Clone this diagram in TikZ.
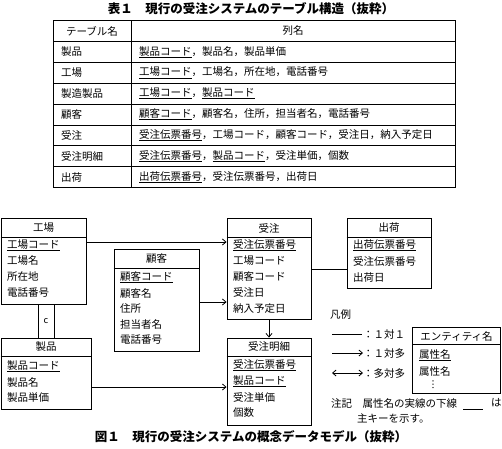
\documentclass[tikz,border=0pt]{standalone}
\usepackage{fontspec}
\setmainfont{Noto Sans CJK JP}
\usepackage{tikz}
\usetikzlibrary{arrows.meta}

\newcommand{\pk}[1]{\setbox0=\hbox{#1}\rlap{\rule[-2.6pt]{\wd0}{0.9pt}}\box0}

\tikzset{
    txt/.style={inner sep=0pt, anchor=west, font=\fontsize{10.5}{12}\selectfont},
    head/.style={inner sep=0pt, font=\fontsize{10.5}{12}\selectfont},
    entity/.style={draw, line width=0.9pt, inner sep=0pt},
    rel/.style={line width=0.8pt},
    tomany/.style={rel, -{Straight Barb[length=3.5pt, width=6pt]}},
    manymany/.style={rel, {Straight Barb[length=3.5pt, width=6pt]}-{Straight Barb[length=3.5pt, width=6pt]}},
}

\begin{document}
\begin{tikzpicture}[x=1pt, y=-1pt]
    \useasboundingbox (0,0) rectangle (502,448);

    % table 1
    \node[head, font=\fontsize{12.5}{14}\selectfont\bfseries] (tabtitle) at (251,9) {表１　現行の受注システムのテーブル構造（抜粋）};
    \draw[line width=1pt] (53,20.5) rectangle (455,187.5);
    \draw[line width=0.7pt] (131,20.5) -- (131,187.5);
    \foreach \i in {1,...,7}
    \draw[line width=0.7pt] (53,20.5+20.875*\i) -- (455,20.5+20.875*\i);

    \node[head] (thname) at (92,31) {テーブル名};
    \node[head] (thcols) at (293,31) {列名};
    \foreach \nm/\cols [count=\i] in {
        製品/{\pk{製品コード}，製品名，製品単価},
        工場/{\pk{工場コード}，工場名，所在地，電話番号},
        製造製品/{\pk{工場コード}，\pk{製品コード}},
        顧客/{\pk{顧客コード}，顧客名，住所，担当者名，電話番号},
        受注/{\pk{受注伝票番号}，工場コード，顧客コード，受注日，納入予定日},
        受注明細/{\pk{受注伝票番号}，\pk{製品コード}，受注単価，個数},
        出荷/{\pk{出荷伝票番号}，受注伝票番号，出荷日}}
    {
        \node[txt] (tname\i) at (61,31+20.875*\i) {\nm};
        \node[txt] (tcols\i) at (139,31+20.875*\i) {\cols};
    }

    % figure 1
    \node[entity, minimum width=85pt, minimum height=86pt] (kojo) at (43.5,261) {};
    \draw[line width=0.9pt] (kojo.west |- 0,237) -- (kojo.east |- 0,237);
    \node[head] (kojo-h) at (kojo.north |- 0,228) {工場};
    \foreach \a [count=\i] in {\pk{工場コード},工場名,所在地,電話番号}
    \node[txt] (kojo-\i) at (7,229+16*\i) {\a};

    \node[entity, minimum width=16pt, minimum height=34pt, font=\fontsize{9}{10}\selectfont] (blank-c) at (46,321) {c};

    \node[entity, minimum width=90pt, minimum height=71pt] (seihin) at (46,373.5) {};
    \draw[line width=0.9pt] (seihin.west |- 0,356) -- (seihin.east |- 0,356);
    \node[head] (seihin-h) at (seihin.north |- 0,347) {製品};
    \foreach \a [count=\i] in {\pk{製品コード},製品名,製品単価}
    \node[txt] (seihin-\i) at (7,350+16*\i) {\a};

    \node[entity, minimum width=85pt, minimum height=102pt] (kokyaku) at (156.5,300) {};
    \draw[line width=0.9pt] (kokyaku.west |- 0,268) -- (kokyaku.east |- 0,268);
    \node[head] (kokyaku-h) at (kokyaku.north |- 0,259) {顧客};
    \foreach \a [count=\i] in {\pk{顧客コード},顧客名,住所,担当者名,電話番号}
    \node[txt] (kokyaku-\i) at (120,262+15.5*\i) {\a};

    \node[entity, minimum width=84pt, minimum height=101pt] (juchu) at (269,268.5) {};
    \draw[line width=0.9pt] (juchu.west |- 0,237) -- (juchu.east |- 0,237);
    \node[head] (juchu-h) at (juchu.north |- 0,228) {受注};
    \foreach \a [count=\i] in {\pk{受注伝票番号},工場コード,顧客コード,受注日,納入予定日}
    \node[txt] (juchu-\i) at (233,229+15.9*\i) {\a};

    \node[entity, minimum width=84pt, minimum height=70pt] (shukka) at (389,253) {};
    \draw[line width=0.9pt] (shukka.west |- 0,237) -- (shukka.east |- 0,237);
    \node[head] (shukka-h) at (shukka.north |- 0,228) {出荷};
    \foreach \a [count=\i] in {\pk{出荷伝票番号},受注伝票番号,出荷日}
    \node[txt] (shukka-\i) at (353,229+16*\i) {\a};

    \node[entity, minimum width=84pt, minimum height=87pt] (meisai) at (269,381.5) {};
    \draw[line width=0.9pt] (meisai.west |- 0,356) -- (meisai.east |- 0,356);
    \node[head] (meisai-h) at (meisai.north |- 0,347) {受注明細};
    \foreach \a [count=\i] in {\pk{受注伝票番号},\pk{製品コード},受注単価,個数}
    \node[txt] (meisai-\i) at (233,349+16*\i) {\a};

    \draw[tomany] (kojo.east |- 0,242) -- (juchu.west |- 0,242);
    \draw[tomany] (kokyaku.east |- 0,302) -- (juchu.west |- 0,302);
    \draw[tomany] (seihin.east |- 0,387) -- (meisai.west |- 0,387);
    \draw[tomany] (juchu.south) -- (meisai.north);
    \draw[rel] (juchu.east |- 0,269) -- (shukka.west |- 0,269);

    % legend
    \node[txt] (hanrei) at (330,315) {凡例};
    \coordinate (oneone-a) at (332,334);
    \coordinate (oneone-b) at (362,334);
    \coordinate (onemany-a) at (332,353);
    \coordinate (onemany-b) at (363,353);
    \coordinate (manymany-a) at (332,373);
    \coordinate (manymany-b) at (363,373);
    \draw[rel] (oneone-a) -- (oneone-b);
    \draw[tomany] (onemany-a) -- (onemany-b);
    \draw[manymany] (manymany-a) -- (manymany-b);
    \node[txt] (oneone) at (363,334) {：１対１};
    \node[txt] (onemany) at (363,353) {：１対多};
    \node[txt] (manymany) at (363,373) {：多対多};

    \node[entity, minimum width=88pt, minimum height=66pt] (ent) at (456.5,360) {};
    \draw[line width=0.9pt] (ent.west |- 0,344) -- (ent.east |- 0,344);
    \node[head] (ent-h) at (ent.north |- 0,336) {エンティティ名};
    \node[txt] (ent-1) at (419,355) {\pk{属性名}};
    \node[txt] (ent-2) at (419,371) {属性名};
    \node[head, font=\fontsize{10}{11}\selectfont] (ent-3) at (433,384.5) {︙};

    \node[txt] (chuki) at (331,403) {注記　属性名の実線の下線};
    \coordinate (keyline-a) at (463,409);
    \coordinate (keyline-b) at (483,409);
    \draw[line width=0.9pt] (keyline-a) -- (keyline-b);
    \node[txt] (chuki-ha) at (491,403) {は};
    \node[txt] (chuki-2) at (357,419) {主キーを示す。};

    \node[head, font=\fontsize{12.5}{14}\selectfont\bfseries] (figtitle) at (251,437) {図１　現行の受注システムの概念データモデル（抜粋）};
\end{tikzpicture}
\end{document}
